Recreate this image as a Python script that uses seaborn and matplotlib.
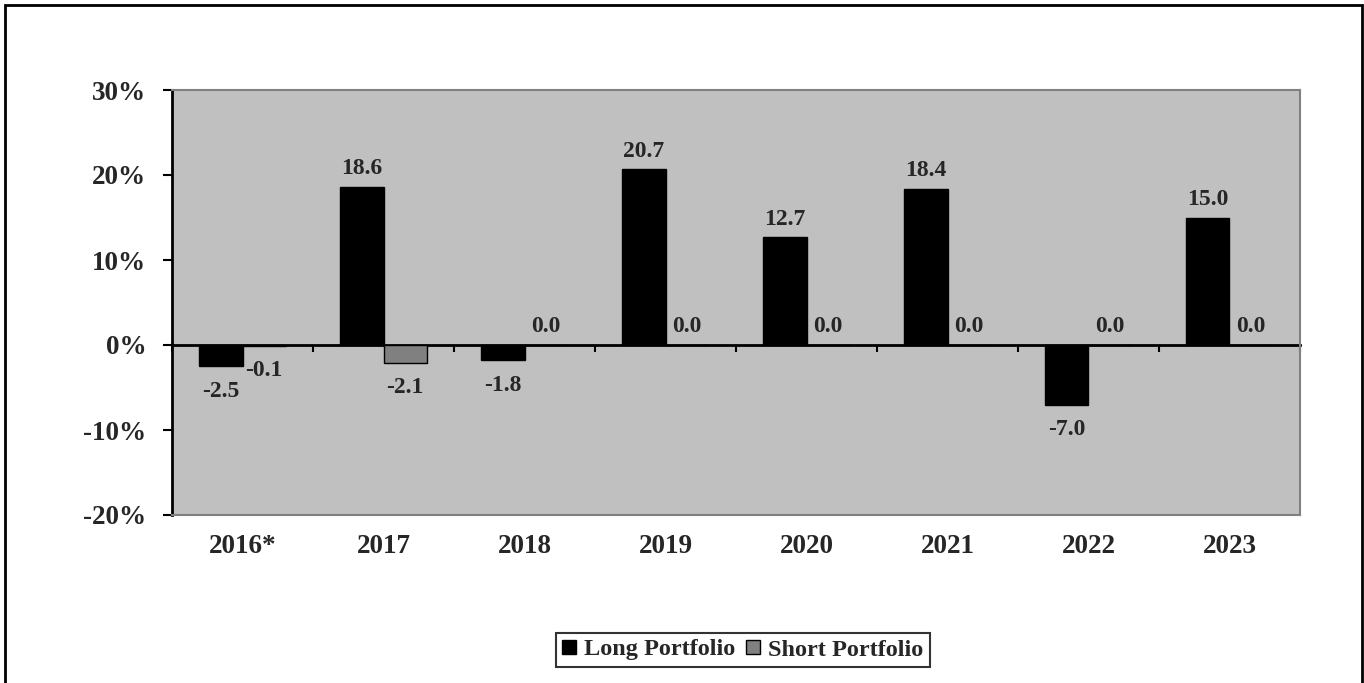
import matplotlib
matplotlib.use('Agg')
import seaborn as sns
import matplotlib.pyplot as plt
import numpy as np
import pandas as pd
from matplotlib.patches import Rectangle

# data
years = ['2016*', '2017', '2018', '2019', '2020', '2021', '2022', '2023']
long_ret = [-2.5, 18.6, -1.8, 20.7, 12.7, 18.4, -7.0, 15.0]
short_ret = [-0.1, -2.1, 0.0, 0.0, 0.0, 0.0, 0.0, 0.0]
series = ['Long Portfolio', 'Short Portfolio']

df = pd.DataFrame({
    'year': years * 2,
    'value': long_ret + short_ret,
    'portfolio': [series[0]] * len(years) + [series[1]] * len(years),
})

sns.set_theme(style='white')
plt.rcParams['font.family'] = ['Liberation Serif', 'DejaVu Serif']
plt.rcParams['font.weight'] = 'bold'

W, H = 1364, 683
fig = plt.figure(figsize=(W / 100, H / 100), dpi=100)
ax = fig.add_axes([172 / W, 1 - 515 / H, (1300 - 172) / W, (515 - 90) / H])
ax.set_facecolor('#C0C0C0')

sns.barplot(data=df, x='year', y='value', hue='portfolio', order=years,
            hue_order=series, palette={series[0]: 'black', series[1]: '#808080'},
            width=0.61, edgecolor='black', linewidth=1, saturation=1, ax=ax)

ax.set_xlim(-0.5, len(years) - 0.5)
ax.set_ylim(-20, 30)
ax.set_yticks([-20, -10, 0, 10, 20, 30])
ax.set_yticklabels([f'{v}%' for v in [-20, -10, 0, 10, 20, 30]], fontsize=19.5, fontweight='bold')
ax.tick_params(axis='y', direction='out', length=6.5, width=1.5, color='black', pad=12, left=True)
ax.tick_params(axis='x', length=0, pad=14, labelsize=19.5)
for t in ax.get_xticklabels():
    t.set_fontweight('bold')
ax.set_xlabel('')
ax.set_ylabel('')

for side in ['top', 'right', 'bottom']:
    ax.spines[side].set_color('#808080')
    ax.spines[side].set_linewidth(1.5)
ax.spines['left'].set_color('black')
ax.spines['left'].set_linewidth(2)

# zero line with category separators
sec = ax.secondary_xaxis(0.4)
sec.set_xticks(np.arange(-0.5, len(years), 1))
sec.tick_params(direction='out', length=5, width=1.5, color='black', labelbottom=False)
sec.spines['bottom'].set_color('black')
sec.spines['bottom'].set_linewidth(2)

# value labels
for cont in ax.containers:
    for bar in cont:
        v = bar.get_height()
        x = bar.get_x() + bar.get_width() / 2
        if v >= 0:
            ax.annotate(f'{v:.1f}', (x, v), xytext=(0, 9), textcoords='offset points',
                        ha='center', va='baseline', fontsize=17, fontweight='bold')
        else:
            ax.annotate(f'{v:.1f}', (x, v), xytext=(0, -22), textcoords='offset points',
                        ha='center', va='baseline', fontsize=17, fontweight='bold')

handles, labels = ax.get_legend_handles_labels()
ax.get_legend().remove()
leg = fig.legend(handles, labels, loc='center', bbox_to_anchor=(743 / W, 1 - 650 / H),
                 ncol=2, frameon=True, fancybox=False, edgecolor='black',
                 prop={'size': 17.5, 'weight': 'bold'}, handlelength=0.55, handleheight=0.55,
                 handletextpad=0.35, columnspacing=0.45, borderpad=0.25, borderaxespad=0)
leg.get_frame().set_linewidth(1.5)

# chart border
fig.add_artist(Rectangle((5 / W, -0.1), (1362 - 5) / W, 1.1 - 5 / H, transform=fig.transFigure,
                         fill=False, edgecolor='black', linewidth=2, clip_on=False))

fig.savefig('out.png', dpi=100)
